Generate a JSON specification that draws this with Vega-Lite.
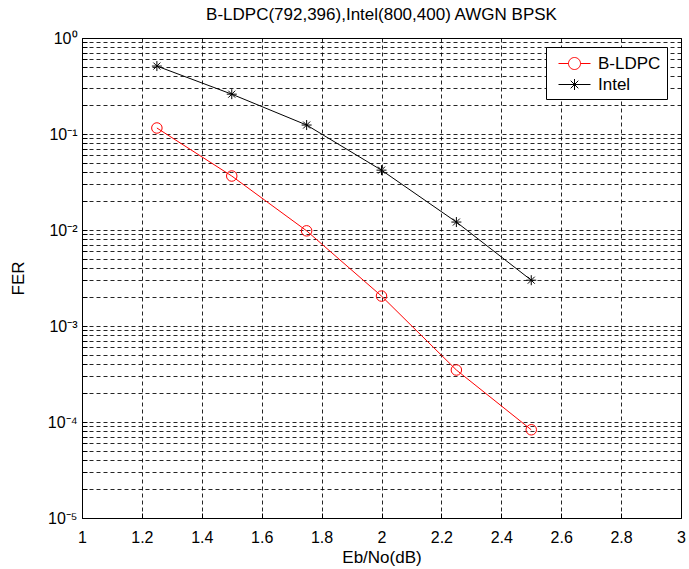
{
  "$schema": "https://vega.github.io/schema/vega-lite/v6.json",
  "width": 599,
  "height": 480,
  "autosize": {"type": "none"},
  "padding": {"left": 82, "top": 38, "right": 8, "bottom": 51},
  "background": "white",
  "title": {
    "text": "B-LDPC(792,396),Intel(800,400) AWGN BPSK",
    "font": "Liberation Sans",
    "fontSize": 17,
    "fontWeight": "normal",
    "color": "#000",
    "anchor": "middle",
    "offset": 6
  },
  "config": {
    "view": {"stroke": "#000", "strokeWidth": 1},
    "axis": {
      "labelFont": "Liberation Sans",
      "titleFont": "Liberation Sans",
      "labelFontSize": 16,
      "titleFontSize": 17,
      "titleFontWeight": "normal",
      "labelColor": "#000",
      "titleColor": "#000",
      "domain": false,
      "grid": true,
      "gridColor": "#000",
      "gridOpacity": 0.85,
      "gridDash": [4, 3],
      "gridWidth": 1,
      "ticks": true,
      "tickColor": "#000",
      "tickSize": -5,
      "labelOverlap": false,
      "labelFlush": false
    },
    "legend": {
      "orient": "none",
      "legendX": 464,
      "legendY": 9,
      "title": null,
      "fillColor": "white",
      "strokeColor": "#000",
      "padding": 6,
      "cornerRadius": 0,
      "rowPadding": 2,
      "symbolOffset": 12,
      "labelOffset": 13,
      "symbolOpacity": 1,
      "symbolStrokeWidth": 1,
      "symbolSize": 400,
      "symbolFillColor": "transparent",
      "labelFont": "Liberation Sans",
      "labelFontSize": 17,
      "labelColor": "#000",
      "labelLimit": 200
    }
  },
  "data": {
    "values": [
      {"series": "B-LDPC", "ebno": 1.25, "fer": 0.1155},
      {"series": "B-LDPC", "ebno": 1.5, "fer": 0.0365},
      {"series": "B-LDPC", "ebno": 1.75, "fer": 0.0098},
      {"series": "B-LDPC", "ebno": 2.0, "fer": 0.00205},
      {"series": "B-LDPC", "ebno": 2.25, "fer": 0.000348},
      {"series": "B-LDPC", "ebno": 2.5, "fer": 0.000083},
      {"series": "Intel", "ebno": 1.25, "fer": 0.51},
      {"series": "Intel", "ebno": 1.5, "fer": 0.26},
      {"series": "Intel", "ebno": 1.75, "fer": 0.124},
      {"series": "Intel", "ebno": 2.0, "fer": 0.042},
      {"series": "Intel", "ebno": 2.25, "fer": 0.0121},
      {"series": "Intel", "ebno": 2.5, "fer": 0.003}
    ]
  },
  "encoding": {
    "x": {
      "field": "ebno",
      "type": "quantitative",
      "scale": {"domain": [1, 3], "nice": false, "zero": false},
      "axis": {
        "title": "Eb/No(dB)",
        "values": [1, 1.2, 1.4, 1.6, 1.8, 2, 2.2, 2.4, 2.6, 2.8, 3],
        "format": "~g",
        "labelPadding": 16,
        "titlePadding": 4
      }
    },
    "y": {
      "field": "fer",
      "type": "quantitative",
      "scale": {"type": "log", "domain": [0.00001, 1], "nice": false},
      "axis": {
        "title": "FER",
        "values": [0.00001, 0.00002, 0.00003, 0.00004, 0.00005, 0.00006, 0.00007, 0.00008, 0.00009,
                   0.0001, 0.0002, 0.0003, 0.0004, 0.0005, 0.0006, 0.0007, 0.0008, 0.0009,
                   0.001, 0.002, 0.003, 0.004, 0.005, 0.006, 0.007, 0.008, 0.009,
                   0.01, 0.02, 0.03, 0.04, 0.05, 0.06, 0.07, 0.08, 0.09,
                   0.1, 0.2, 0.3, 0.4, 0.5, 0.6, 0.7, 0.8, 0.9, 1],
        "labelExpr": "abs(datum.value / pow(10, round(log(datum.value)/LN10)) - 1) < 0.001 ? ['10⁰','10⁻¹','10⁻²','10⁻³','10⁻⁴','10⁻⁵'][-round(log(datum.value)/LN10)] : ''",
        "labelPadding": 10,
        "titlePadding": 20
      }
    }
  },
  "layer": [
    {
      "mark": {"type": "line", "strokeWidth": 1},
      "encoding": {
        "color": {
          "field": "series",
          "type": "nominal",
          "title": null,
          "scale": {"domain": ["B-LDPC", "Intel"], "range": ["#ff0000", "#000000"]},
          "legend": {"labelExpr": "datum.label + '\u00a0\u00a0'"}
        }
      }
    },
    {
      "transform": [{"filter": "datum.series === 'B-LDPC'"}],
      "mark": {"type": "point", "shape": "circle", "size": 110, "filled": false, "strokeWidth": 1, "opacity": 1},
      "encoding": {
        "color": {"field": "series", "type": "nominal", "title": null, "legend": {"labelExpr": "datum.label + '\u00a0\u00a0'"}}
      }
    },
    {
      "transform": [{"filter": "datum.series === 'Intel'"}],
      "mark": {"type": "point", "shape": "M-1,0H1M0,-1V1M-0.7,-0.7L0.7,0.7M-0.7,0.7L0.7,-0.7", "size": 100, "filled": false, "strokeWidth": 1, "opacity": 1},
      "encoding": {
        "color": {"field": "series", "type": "nominal", "title": null, "legend": {"labelExpr": "datum.label + '\u00a0\u00a0'"}}
      }
    },
    {
      "mark": {"type": "point", "filled": false, "opacity": 0, "size": 400},
      "encoding": {
        "color": {
          "field": "series",
          "type": "nominal",
          "title": null,
          "legend": {"labelExpr": "datum.label + '\u00a0\u00a0'"}
        },
        "shape": {
          "field": "series",
          "type": "nominal",
          "title": null,
          "scale": {
            "domain": ["B-LDPC", "Intel"],
            "range": [
              "M-1.6,0H-0.6M0.6,0H1.6M-0.6,0A0.6,0.6 0 1,1 0.6,0A0.6,0.6 0 1,1 -0.6,0",
              "M-1.6,0H1.6M0,-0.55V0.55M-0.38,-0.38L0.38,0.38M-0.38,0.38L0.38,-0.38"
            ]
          },
          "legend": {"labelExpr": "datum.label + '\u00a0\u00a0'"}
        }
      }
    }
  ]
}
